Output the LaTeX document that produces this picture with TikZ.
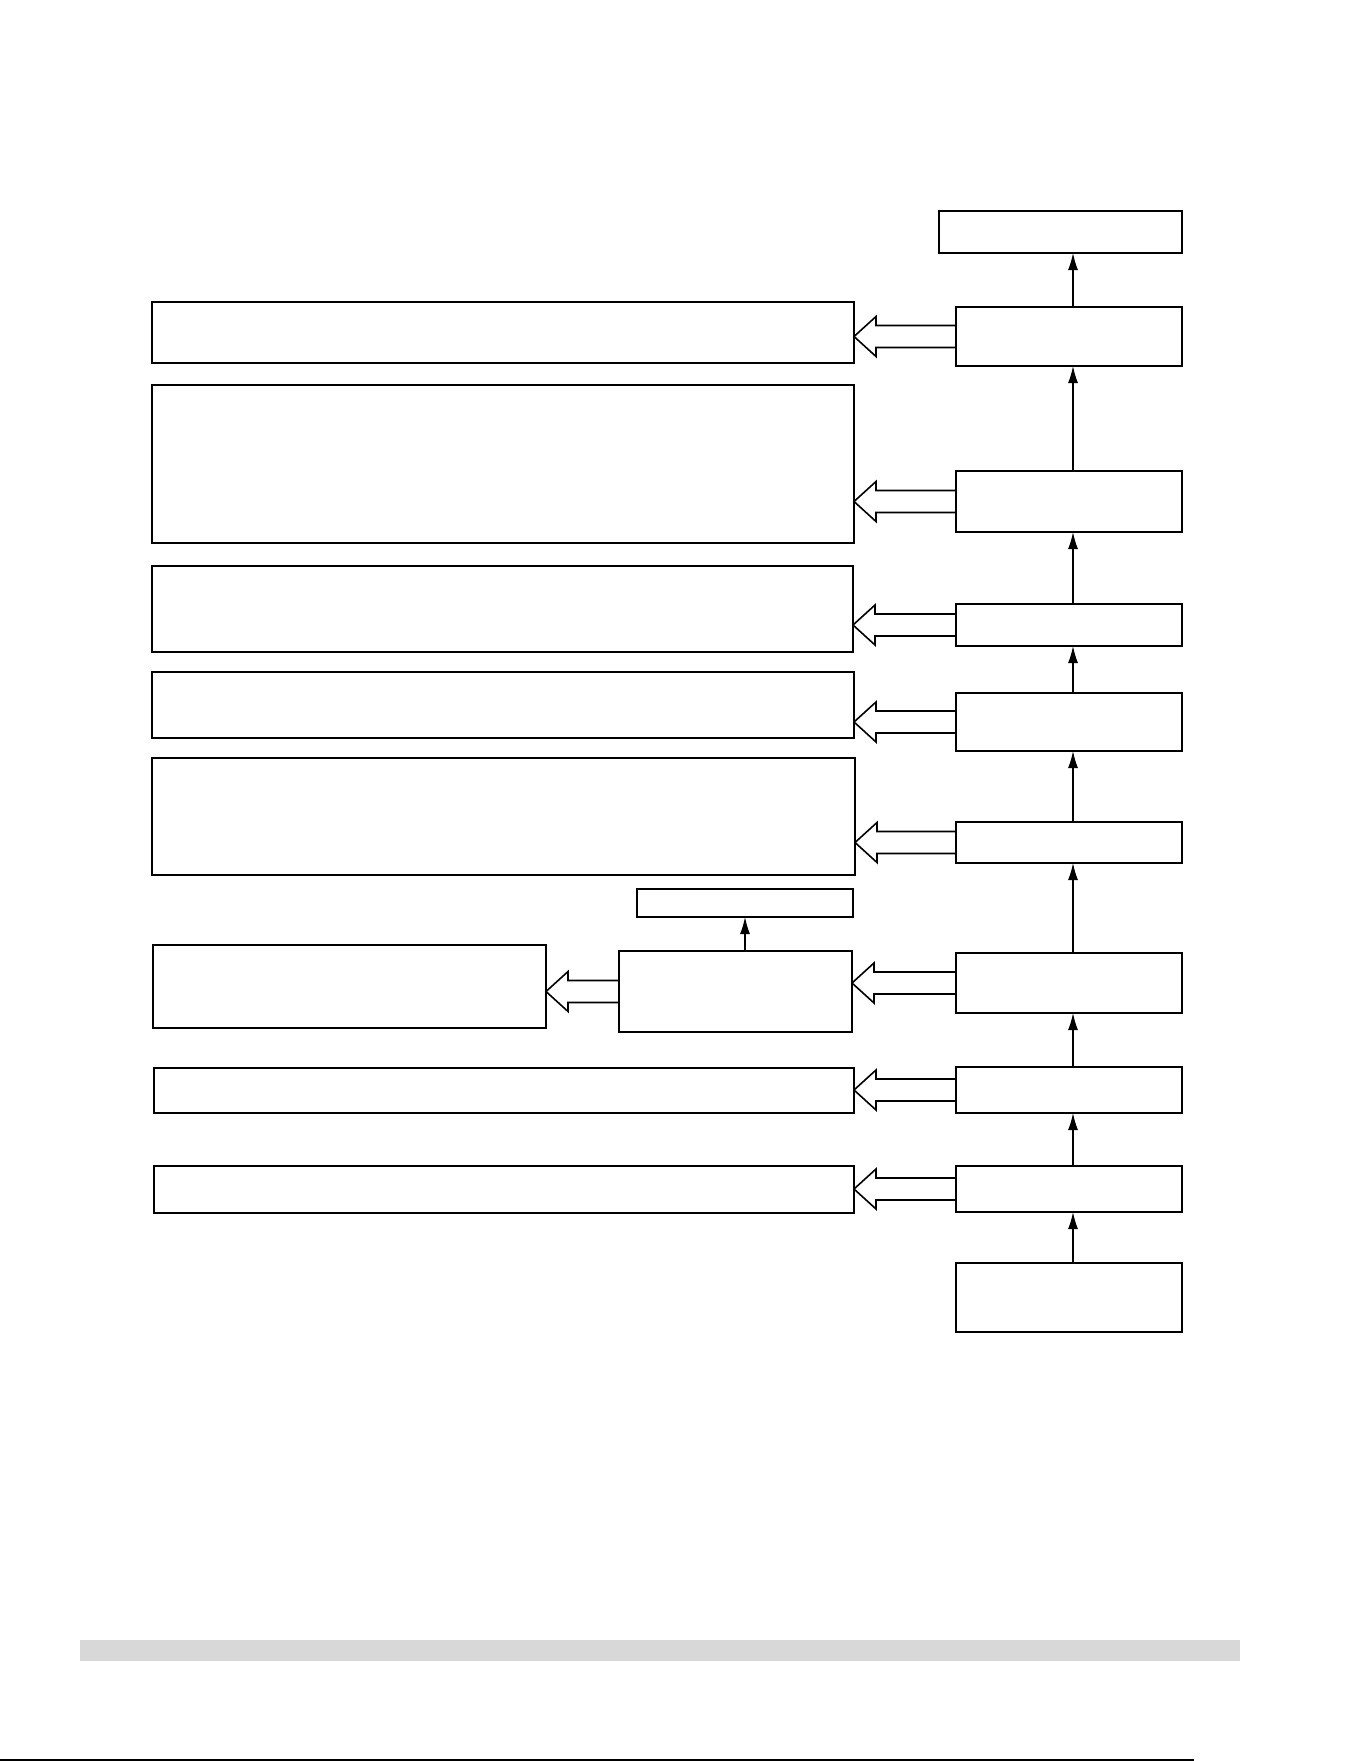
\documentclass[tikz,border=0pt]{standalone}
\usepackage{xcolor}
\usepackage{tikz}
\usetikzlibrary{arrows.meta,calc}
\definecolor{bargray}{HTML}{D8D8D8}
\tikzset{
    blk/.style={draw, rectangle, line width=2.4pt, inner sep=0pt, outer sep=0pt},
    flow/.style={line width=1.3pt, -{Latex[length=17pt,width=10pt]}},
    hollow/.style={line width=1.6pt, line join=miter}}

\begin{document}
\begin{tikzpicture}[x=1pt,y=-1pt]
\useasboundingbox (0,0) rectangle (1361,1761);
% right column
\node[blk, minimum width=243, minimum height=42] (R0) at (1060.5,232) {};
\node[blk, minimum width=226, minimum height=59] (R1) at (1069,336.5) {};
\node[blk, minimum width=226, minimum height=61] (R2) at (1069,501.5) {};
\node[blk, minimum width=226, minimum height=42] (R3) at (1069,625) {};
\node[blk, minimum width=226, minimum height=58] (R4) at (1069,722) {};
\node[blk, minimum width=226, minimum height=41] (R5) at (1069,842.5) {};
\node[blk, minimum width=226, minimum height=60] (R6) at (1069,983) {};
\node[blk, minimum width=226, minimum height=46] (R7) at (1069,1090) {};
\node[blk, minimum width=226, minimum height=46] (R8) at (1069,1189) {};
\node[blk, minimum width=226, minimum height=69] (R9) at (1069,1297.5) {};
% left column
\node[blk, minimum width=702, minimum height=61] (L1) at (503,332.5) {};
\node[blk, minimum width=702, minimum height=158] (L2) at (503,464) {};
\node[blk, minimum width=701, minimum height=86] (L3) at (502.5,609) {};
\node[blk, minimum width=702, minimum height=66] (L4) at (503,705) {};
\node[blk, minimum width=703, minimum height=117] (L5) at (503.5,816.5) {};
\node[blk, minimum width=216, minimum height=28] (S) at (745,903) {};
\node[blk, minimum width=233, minimum height=81] (M) at (735.5,991.5) {};
\node[blk, minimum width=393, minimum height=83] (L6) at (349.5,986.5) {};
\node[blk, minimum width=700, minimum height=45] (L7) at (504,1090.5) {};
\node[blk, minimum width=700, minimum height=47] (L8) at (504,1189.5) {};
% upward arrows
\foreach \a/\b in {R9/R8,R8/R7,R7/R6,R6/R5,R5/R4,R4/R3,R3/R2,R2/R1}
  \draw[flow] ([xshift=4pt]\a.north) -- ([xshift=4pt]\b.south);
\draw[flow] ([xshift=4pt]R1.north) -- ([xshift=4pt]R1.north |- R0.south);
\draw[flow] (M.north -| S.south) -- (S.south);
% open arrows to the left
\foreach \s/\t in {R1/L1,R2/L2,R3/L3,R4/L4,R5/L5,R6/M,M/L6,R7/L7,R8/L8}{
  \coordinate (tip) at (\t.east |- \s.west);
  \draw[hollow] ($(\s.west)+(0,-11)$) -- ($(tip)+(22,-11)$) -- ($(tip)+(22,-20)$)
     -- (tip) -- ($(tip)+(22,20)$) -- ($(tip)+(22,11)$) -- ($(\s.west)+(0,11)$);
}
% page footer
\fill[bargray] (80,1640) rectangle (1240,1661);
\draw[line width=1.5pt] (0,1760) -- (1194,1760);
\end{tikzpicture}
\end{document}
